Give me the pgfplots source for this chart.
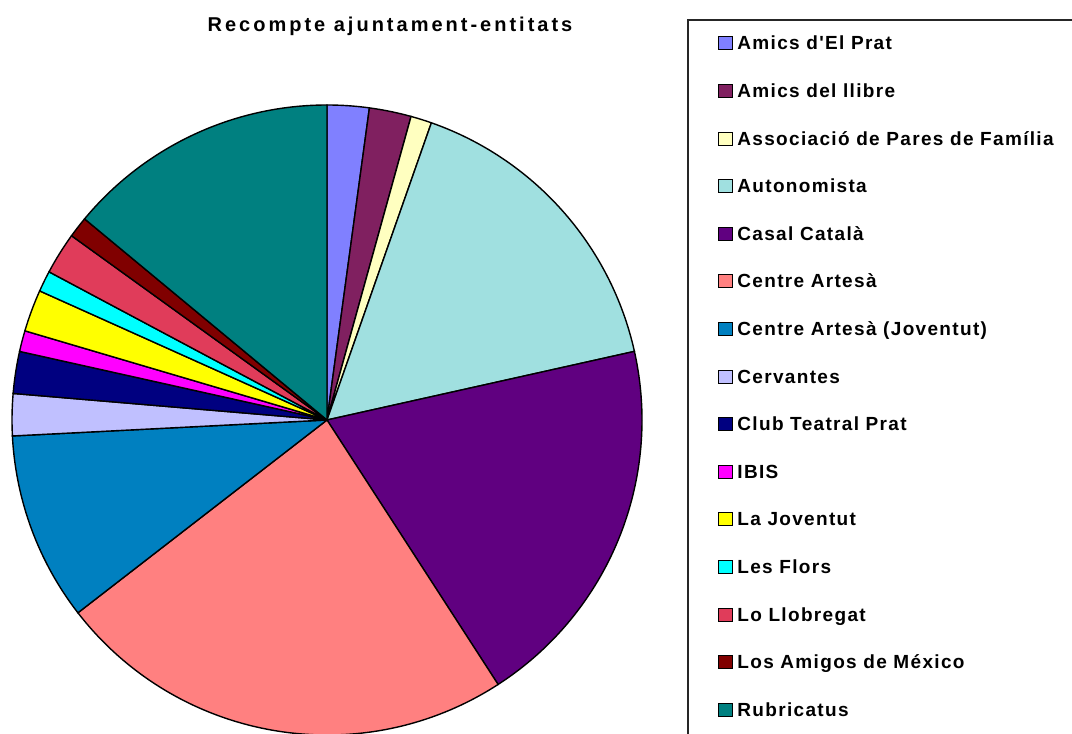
\documentclass[border=0pt]{standalone}
\usepackage{pgfplots}
\pgfplotsset{compat=1.18}
\usepackage{fontspec}
\setmainfont{Liberation Sans}
\newfontfamily\chartfont{Liberation Sans}[LetterSpace=7]
\newfontfamily\titlefont{Liberation Sans}[LetterSpace=15]

% Excel-style slice colours
\definecolor{cA}{HTML}{8080FF}
\definecolor{cB}{HTML}{802060}
\definecolor{cC}{HTML}{FFFFC0}
\definecolor{cD}{HTML}{A0E0E0}
\definecolor{cE}{HTML}{600080}
\definecolor{cF}{HTML}{FF8080}
\definecolor{cG}{HTML}{0080C0}
\definecolor{cH}{HTML}{C0C0FF}
\definecolor{cI}{HTML}{000080}
\definecolor{cJ}{HTML}{FF00FF}
\definecolor{cK}{HTML}{FFFF00}
\definecolor{cL}{HTML}{00FFFF}
\definecolor{cM}{HTML}{E03C5A}
\definecolor{cN}{HTML}{800000}
\definecolor{cO}{HTML}{008080}

\begin{document}
\begin{tikzpicture}
\clip (0,0) rectangle (536pt,367pt);
\begin{axis}[
    at={(0pt,0pt)}, anchor=south west,
    scale only axis, width=536pt, height=367pt,
    xmin=0, xmax=1072, ymin=0, ymax=734,
    hide axis, clip=false,
    legend image code/.code={\draw[#1,draw=black,line width=0.5pt] (0pt,-3.25pt) rectangle (7pt,3.25pt);},
    legend cell align=left,
    legend style={at={(axis cs:718,698)}, anchor=north west, draw=none, fill=none,
        inner sep=0pt, row sep=16.8pt, column sep=2pt,
        nodes={inner sep=0pt, text height=6.5pt, text depth=0pt,
               font=\chartfont\bfseries\fontsize{9.5}{11}\selectfont}},
]
% values (total 93)
\pgfmathsetmacro{\cum}{0}
\pgfplotsforeachungrouped \v/\c in {2/cA, 2/cB, 1/cC, 15/cD, 18/cE, 22/cF, 9/cG,
    2/cH, 2/cI, 1/cJ, 2/cK, 1/cL, 2/cM, 1/cN, 13/cO}{
  \pgfmathsetmacro{\a}{90-(\cum/93)*360}
  \pgfmathsetmacro{\b}{90-((\cum+\v)/93)*360}
  \edef\slice{\noexpand\filldraw[fill=\c, draw=black, line width=0.7pt]
     (axis cs:327,314) -- ++(\a:157.5pt) arc[start angle=\a, end angle=\b, radius=157.5pt] -- cycle;}
  \slice
  \pgfmathsetmacro{\cum}{\cum+\v}
}

\addlegendimage{fill=cA}\addlegendentry{Amics d'El Prat}
\addlegendimage{fill=cB}\addlegendentry{Amics del llibre}
\addlegendimage{fill=cC}\addlegendentry{Associació de Pares de Família}
\addlegendimage{fill=cD}\addlegendentry{Autonomista}
\addlegendimage{fill=cE}\addlegendentry{Casal Català}
\addlegendimage{fill=cF}\addlegendentry{Centre Artesà}
\addlegendimage{fill=cG}\addlegendentry{Centre Artesà (Joventut)}
\addlegendimage{fill=cH}\addlegendentry{Cervantes}
\addlegendimage{fill=cI}\addlegendentry{Club Teatral Prat}
\addlegendimage{fill=cJ}\addlegendentry{IBIS}
\addlegendimage{fill=cK}\addlegendentry{La Joventut}
\addlegendimage{fill=cL}\addlegendentry{Les Flors}
\addlegendimage{fill=cM}\addlegendentry{Lo Llobregat}
\addlegendimage{fill=cN}\addlegendentry{Los Amigos de México}
\addlegendimage{fill=cO}\addlegendentry{Rubricatus}

\draw[black!85, line width=0.75pt] (axis cs:688,714) rectangle (axis cs:1100,-30);
\node[anchor=base, font=\titlefont\bfseries\fontsize{10}{12}\selectfont] at (axis cs:390,702) {Recompte ajuntament-entitats};
\end{axis}
\end{tikzpicture}
\end{document}
